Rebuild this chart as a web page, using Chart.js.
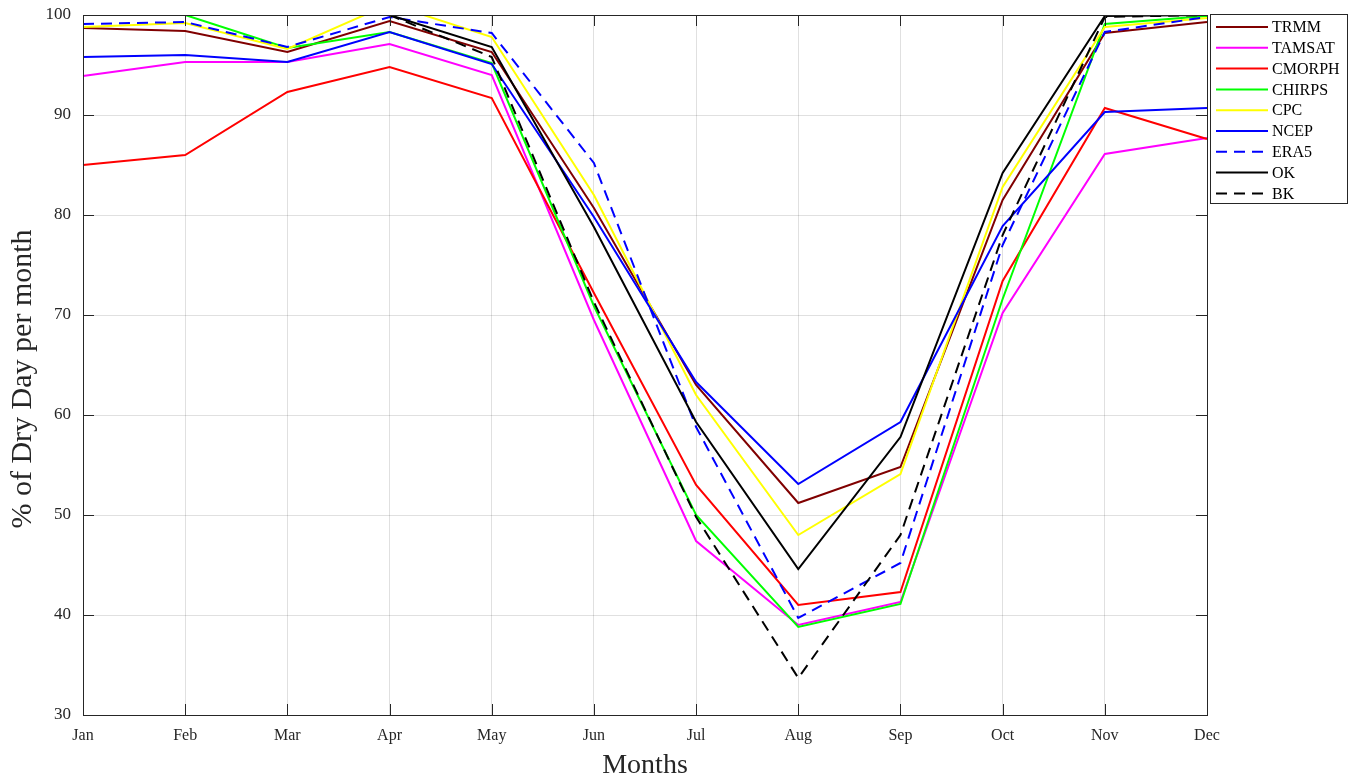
<!DOCTYPE html>
<html>
<head>
<meta charset="utf-8">
<title>Dry days per month</title>
<script src="https://cdn.jsdelivr.net/npm/chart.js@4.4.0/dist/chart.umd.min.js"></script>
<style>
  html, body { margin: 0; padding: 0; background: #fff; }
  #wrap { width: 1356px; height: 782px; }
</style>
</head>
<body>
<div id="wrap"><canvas id="dryChart" width="1356" height="782"></canvas></div>
<script>
const months = ['Jan', 'Feb', 'Mar', 'Apr', 'May', 'Jun', 'Jul', 'Aug', 'Sep', 'Oct', 'Nov', 'Dec'];
const yTicks = [30, 40, 50, 60, 70, 80, 90, 100];

// % of dry days per month
const trmm   = [98.7, 98.4, 96.3, 99.4, 96.3, 80.7, 63.0, 51.2, 54.8, 81.5, 98.2, 99.3];
const tamsat = [93.9, 95.3, 95.3, 97.1, 94.0, 69.5, 47.4, 39.0, 41.3, 70.2, 86.1, 87.7];
const cmorph = [85.0, 86.0, 92.3, 94.8, 91.7, 72.2, 53.0, 41.0, 42.3, 73.4, 90.7, 87.6];
const chirps = [100, 100, 96.7, 98.3, 95.2, 70.9, 50.0, 38.8, 41.1, 71.6, 99.1, 99.9];
const cpc    = [98.8, 99.2, 96.6, 101.1, 97.8, 82.0, 62.0, 48.0, 54.1, 82.8, 98.8, 99.7];
const ncep   = [95.8, 96.0, 95.3, 98.3, 95.1, 79.8, 63.3, 53.1, 59.3, 78.9, 90.3, 90.7];
const era5   = [99.1, 99.3, 96.8, 99.8, 98.2, 85.2, 58.8, 39.7, 45.2, 77.0, 98.3, 99.8];
const ok     = [100, 100, 100, 100, 96.8, 78.8, 59.3, 44.6, 57.8, 84.2, 99.9, 100];
const bk     = [100, 100, 100, 100, 95.8, 71.3, 49.8, 33.7, 48.0, 78.0, 99.8, 100];

const seriesNames  = ['TRMM', 'TAMSAT', 'CMORPH', 'CHIRPS', 'CPC', 'NCEP', 'ERA5', 'OK', 'BK'];
const seriesData   = [trmm, tamsat, cmorph, chirps, cpc, ncep, era5, ok, bk];
const seriesColors = ['#800000', '#ff00ff', '#ff0000', '#00ff00', '#ffff00', '#0000ff', '#0000ff', '#000000', '#000000'];
const seriesDash   = [[], [], [], [], [], [], [11, 7], [], [11, 7]];

const yTitle = '% of Dry Day per month';

const SERIF = '"Liberation Serif", "Times New Roman", serif';
const AXIS = '#262626';

const datasets = seriesData.map((data, i) => ({
  label: seriesNames[i],
  data,
  borderColor: seriesColors[i],
  backgroundColor: seriesColors[i],
  borderWidth: 2,
  borderDash: seriesDash[i],
  pointRadius: 0,
  pointHoverRadius: 0,
  tension: 0,
  order: seriesData.length - i // later series on top, like the original
}));

// box round the plot with small inward ticks on every side, plus the y title
const framePlugin = {
  id: 'frame',
  afterDraw(chart) {
    const { ctx, chartArea: a, scales: { x, y } } = chart;
    const tick = 11;
    ctx.save();
    ctx.strokeStyle = AXIS;
    ctx.lineWidth = 1;
    ctx.strokeRect(a.left + 0.5, a.top + 0.5, a.right - a.left, a.bottom - a.top);
    ctx.beginPath();
    months.forEach((m, i) => {
      const px = Math.round(x.getPixelForValue(i)) + 0.5;
      ctx.moveTo(px, a.bottom); ctx.lineTo(px, a.bottom - tick);
      ctx.moveTo(px, a.top); ctx.lineTo(px, a.top + tick);
    });
    yTicks.forEach(v => {
      const py = Math.round(y.getPixelForValue(v)) + 0.5;
      ctx.moveTo(a.left, py); ctx.lineTo(a.left + tick, py);
      ctx.moveTo(a.right, py); ctx.lineTo(a.right - tick, py);
    });
    ctx.stroke();

    // matlab puts the ylabel a bit below the middle of the axis
    ctx.translate(23, (a.top + a.bottom) / 2 + 14);
    ctx.rotate(-Math.PI / 2);
    ctx.font = '30px ' + SERIF;
    ctx.fillStyle = AXIS;
    ctx.textAlign = 'center';
    ctx.textBaseline = 'middle';
    ctx.fillText(yTitle, 0, 0);
    ctx.restore();
  }
};

// boxed legend at the top right, matlab style
const legendPlugin = {
  id: 'boxLegend',
  afterDraw(chart) {
    const { ctx } = chart;
    const left = 1210, top = 14, w = 137, h = 189, step = 20.8;
    ctx.save();
    ctx.fillStyle = '#fff';
    ctx.fillRect(left, top, w, h);
    ctx.strokeStyle = AXIS;
    ctx.lineWidth = 1;
    ctx.strokeRect(left + 0.5, top + 0.5, w, h);
    ctx.font = '16px ' + SERIF;
    ctx.textBaseline = 'middle';
    chart.data.datasets.forEach((ds, i) => {
      const yy = top + 13 + i * step;
      ctx.beginPath();
      ctx.setLineDash(ds.borderDash);
      ctx.strokeStyle = ds.borderColor;
      ctx.lineWidth = 2;
      ctx.moveTo(left + 6, yy);
      ctx.lineTo(left + 58, yy);
      ctx.stroke();
      ctx.setLineDash([]);
      ctx.fillStyle = '#000';
      ctx.fillText(ds.label, left + 62, yy + 1);
    });
    ctx.restore();
  }
};

new Chart(document.getElementById('dryChart').getContext('2d'), {
  type: 'line',
  data: { labels: months, datasets },
  options: {
    responsive: false,
    animation: false,
    layout: { padding: { left: 0, top: 15, right: 149, bottom: 0 } },
    plugins: {
      legend: { display: false },
      tooltip: { enabled: false }
    },
    scales: {
      x: {
        offset: false,
        grid: { color: 'rgba(0,0,0,0.12)', drawTicks: false },
        border: { display: false },
        ticks: {
          autoSkip: false,
          maxRotation: 0,
          padding: 11,
          color: AXIS,
          font: { family: SERIF, size: 16 }
        },
        title: {
          display: true,
          text: 'Months',
          color: AXIS,
          font: { family: SERIF, size: 28 },
          padding: { top: 0, bottom: 0 }
        },
        afterFit(scale) { scale.height = 67; }
      },
      y: {
        min: 30,
        max: 100,
        afterBuildTicks(scale) { scale.ticks = yTicks.map(v => ({ value: v })); },
        grid: { color: 'rgba(0,0,0,0.12)', drawTicks: false },
        border: { display: false },
        ticks: {
          padding: 12,
          color: AXIS,
          // small lineHeight so the top label does not push the plot down
          font: { family: SERIF, size: 17, lineHeight: 0.25 }
        },
        afterFit(scale) { scale.width = 83; }
      }
    }
  },
  plugins: [framePlugin, legendPlugin]
});
</script>
</body>
</html>
